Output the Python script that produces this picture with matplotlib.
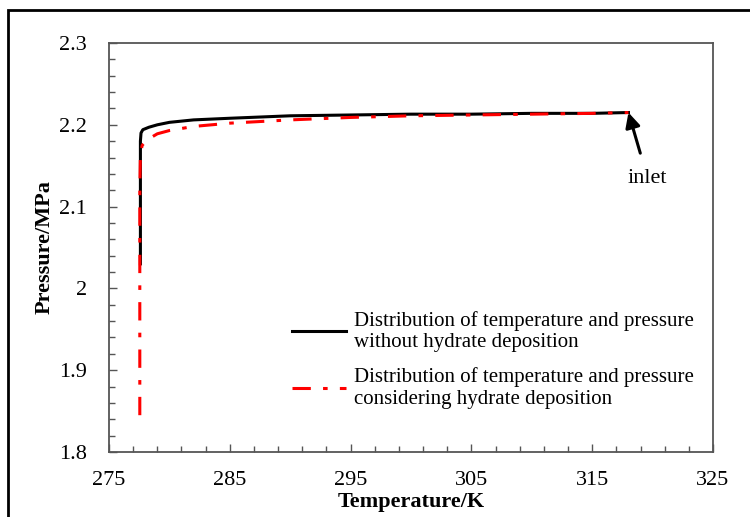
import numpy as np
import matplotlib.pyplot as plt
from matplotlib.patches import Rectangle

plt.rcParams['font.family'] = ['Liberation Serif', 'DejaVu Serif']

# temperature (K) / pressure (MPa) along the pipe, outlet -> inlet
temp_clean = [277.6, 277.6, 277.6, 277.65, 277.8, 278.3, 279.0, 280.0, 282.0, 285.0, 290.0, 295.0, 300.0, 305.0, 310.0, 315.0, 318.0]
pres_clean = [2.030, 2.120, 2.180, 2.190, 2.194, 2.197, 2.200, 2.203, 2.206, 2.208, 2.211, 2.212, 2.213, 2.213, 2.214, 2.214, 2.215]

temp_hyd = [277.55, 277.55, 277.55, 277.6, 277.75, 278.2, 279.0, 280.0, 282.0, 285.0, 290.0, 295.0, 300.0, 305.0, 310.0, 315.0, 318.0]
pres_hyd = [1.845, 2.000, 2.120, 2.165, 2.175, 2.182, 2.189, 2.193, 2.198, 2.202, 2.206, 2.209, 2.211, 2.212, 2.213, 2.214, 2.215]

x_ticks = [275, 285, 295, 305, 315, 325]
y_ticks = [1.8, 1.9, 2.0, 2.1, 2.2, 2.3]
y_labels = ['1.8', '1.9', '2', '2.1', '2.2', '2.3']

fig = plt.figure(figsize=(7.5, 5.17), dpi=100)
ax = fig.add_axes([109 / 750, 1 - 452 / 517, 604 / 750, 409 / 517])

ax.plot(temp_clean, pres_clean, color='black', lw=2.2,
        label='Distribution of temperature and pressure\nwithout hydrate deposition')
ax.plot(temp_hyd, pres_hyd, color='red', lw=2.2, dashes=(6, 4, 1.5, 4),
        label='Distribution of temperature and pressure\nconsidering hydrate deposition')

ax.set_xlim(275, 325)
ax.set_ylim(1.8, 2.3)
ax.set_xticks(x_ticks)
ax.set_xticks(np.arange(275, 326, 2), minor=True)
ax.set_yticks(y_ticks, y_labels)
ax.set_yticks(np.arange(1.8, 2.301, 0.02), minor=True)
ax.tick_params(which='both', direction='in', width=1, color='#555555', labelsize=16)
ax.tick_params(which='major', length=6)
ax.tick_params(which='minor', length=4)
ax.tick_params(axis='x', which='major', pad=14)
ax.tick_params(axis='y', which='major', pad=16)
for s in ax.spines.values():
    s.set_color('#555555')
    s.set_linewidth(1.3)

ax.set_xlabel('Temperature/K', fontsize=16, fontweight='bold', labelpad=1)
ax.set_ylabel('Pressure/MPa', fontsize=16, fontweight='bold', labelpad=3)

ax.annotate('inlet', xy=(318.0, 2.215), xytext=(319.6, 2.134), fontsize=16,
            ha='center', va='center',
            arrowprops=dict(arrowstyle='-|>', color='black', lw=2.2, mutation_scale=22,
                            shrinkA=10, shrinkB=0))

ax.legend(loc='lower right', bbox_to_anchor=(1.0, 0.06), frameon=False,
          fontsize=15, handlelength=2.6, labelspacing=0.7, handletextpad=0.4)

# outer frame around the figure
fig.patches.append(Rectangle((8 / 750, -0.1), 1.1, 1.1 - 10 / 517,
                             transform=fig.transFigure, fill=False,
                             edgecolor='black', lw=2))

fig.savefig('out.png', dpi=100)
